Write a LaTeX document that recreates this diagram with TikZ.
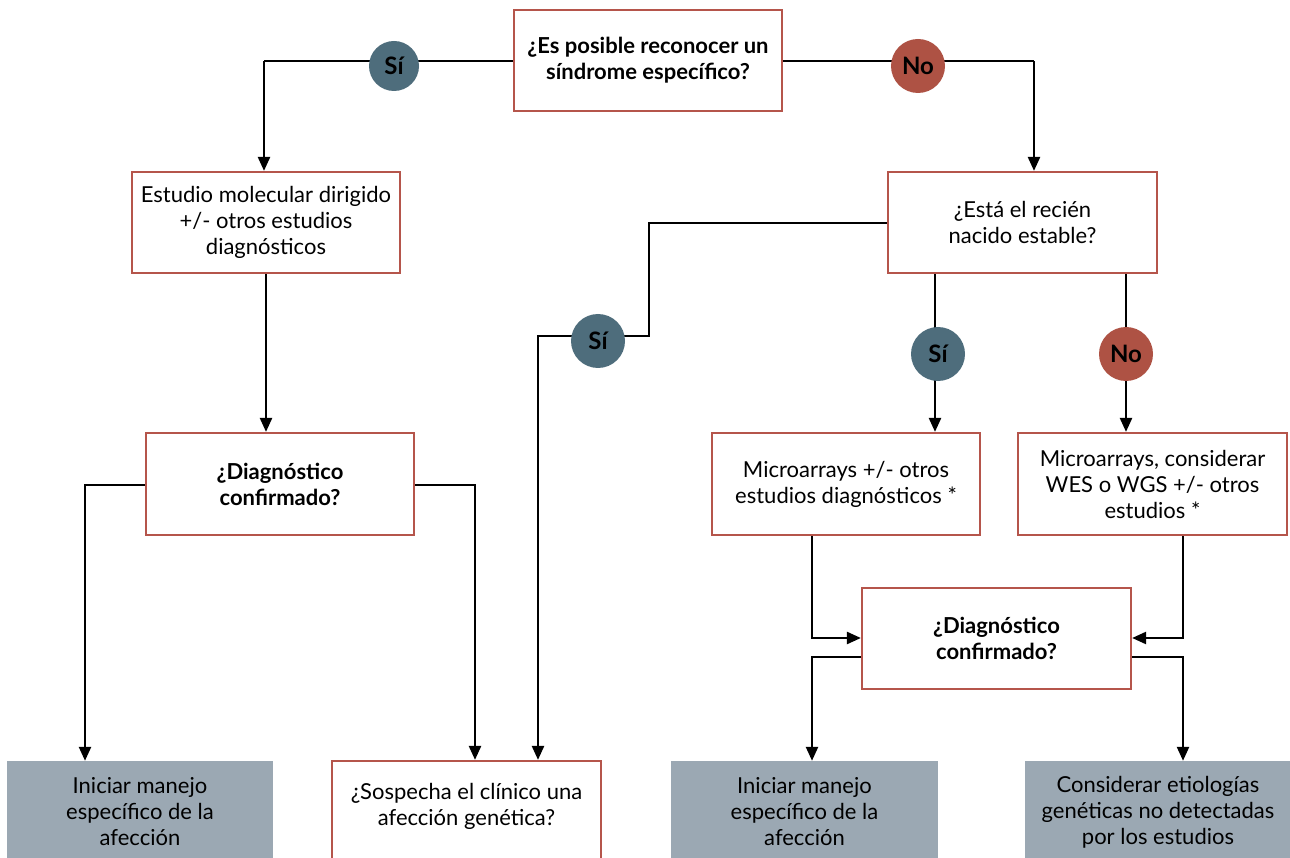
\documentclass[tikz,border=0pt]{standalone}
\usepackage{fontspec}
\setmainfont{Lato}
\usetikzlibrary{arrows.meta}
\definecolor{boxred}{HTML}{B5554B}
\definecolor{siblue}{HTML}{4E6D7C}
\definecolor{nored}{HTML}{AE5244}
\definecolor{grayfill}{HTML}{9BA8B3}
\tikzset{
  txt/.style={font=\fontsize{22}{26}\selectfont},
  box/.style={draw=boxred, line width=2.2pt, fill=white, minimum width=268pt, minimum height=101pt, inner sep=0pt, align=center, txt},
  boldbox/.style={box, font=\fontsize{22}{26}\selectfont\bfseries},
  graybox/.style={fill=grayfill, minimum width=267pt, minimum height=102pt, inner sep=0pt, align=center, txt},
  sic/.style={circle, fill=siblue, minimum size=54pt, inner sep=0pt, font=\fontsize{24}{28}\selectfont\bfseries},
  noc/.style={circle, fill=nored, minimum size=54pt, inner sep=0pt, font=\fontsize{24}{28}\selectfont\bfseries},
  conn/.style={line width=2.4pt, black},
  arr/.style={conn, -{Triangle[length=14pt,width=12pt]}},
}
\begin{document}
\begin{tikzpicture}[x=1pt,y=-1pt]
\clip (0,0) rectangle (1290,858);
\fill[white] (0,0) rectangle (1290,858);
% boxes
\node[boldbox] (top) at (648,60.5) {¿Es posible reconocer un\\síndrome específico?};
\node[box] (estudio) at (266,222.5) {Estudio molecular dirigido\\+/- otros estudios\\diagnósticos};
\node[box, minimum width=269pt] (estable) at (1022.5,222.5) {¿Está el recién\\nacido estable?};
\node[boldbox, minimum height=102pt] (diagL) at (280,484) {¿Diagnóstico\\confirmado?};
\node[box, minimum height=102pt] (micro1) at (846,484) {Microarrays +/- otros\\estudios diagnósticos *};
\node[box, minimum width=269pt, minimum height=102pt] (micro2) at (1152.5,484) {Microarrays, considerar\\WES o WGS +/- otros\\estudios *};
\node[boldbox, minimum width=269pt] (diagR) at (996.5,638.5) {¿Diagnóstico\\confirmado?};
\node[graybox, minimum width=266pt] (iniL) at (140,812) {Iniciar manejo\\específico de la\\afección};
\node[box, minimum width=269pt, minimum height=102pt] (sosp) at (466.5,812) {};
\node[align=center, txt] (sosptext) at (466.5,806) {¿Sospecha el clínico una\\afección genética?};
\node[graybox] (iniR) at (804.5,812) {Iniciar manejo\\específico de la\\afección};
\node[graybox, minimum width=266pt] (consid) at (1158,812) {Considerar etiologías\\genéticas no detectadas\\por los estudios};
% decision circles
\coordinate (c1) at (264,61);
\coordinate (c2) at (1034,61);
\draw[conn] (top.west |- c1) -- (c1);
\draw[arr] (c1) -- (c1 |- estudio.north);
\draw[conn] (top.east |- c2) -- (c2);
\draw[arr] (c2) -- (c2 |- estable.north);
\node[sic, minimum size=50pt] (si1) at (394,66) {Sí};
\node[noc] (no1) at (918,66) {No};
% estudio -> diagL
\draw[arr] (estudio.south) ++(0,0) coordinate (e1) -- (e1 |- diagL.north);
% diagL branches
\coordinate (dl1) at (85,485);
\coordinate (dl2) at (475,485);
\draw[arr] (diagL.west |- dl1) -- (dl1) -- (dl1 |- iniL.north);
\draw[arr] (diagL.east |- dl2) -- (dl2) -- (dl2 |- sosp.north);
% estable -> Sí (left) -> sosp
\coordinate (s1) at (649,223);
\coordinate (s2) at (649,336);
\coordinate (s3) at (538,336);
\draw[arr] (estable.west |- s1) -- (s1) -- (s2) -- (s3) -- (s3 |- sosp.north);
\node[sic] (si2) at (598,341) {Sí};
% estable -> micro1, micro2
\coordinate (m1) at (935,300);
\coordinate (m2) at (1126,300);
\draw[arr] (m1 |- estable.south) -- (m1 |- micro1.north);
\draw[arr] (m2 |- estable.south) -- (m2 |- micro2.north);
\node[sic] (si3) at (938,354) {Sí};
\node[noc] (no2) at (1126,354) {No};
% micro -> diagR
\coordinate (k1) at (812,638);
\coordinate (k2) at (1183,638);
\draw[arr] (k1 |- micro1.south) -- (k1) -- (diagR.west |- k1);
\draw[arr] (k2 |- micro2.south) -- (k2) -- (diagR.east |- k2);
% diagR -> bottom
\coordinate (b1) at (812,657);
\coordinate (b2) at (1183,657);
\draw[arr] (diagR.west |- b1) -- (b1) -- (b1 |- iniR.north);
\draw[arr] (diagR.east |- b2) -- (b2) -- (b2 |- consid.north);
\end{tikzpicture}
\end{document}
